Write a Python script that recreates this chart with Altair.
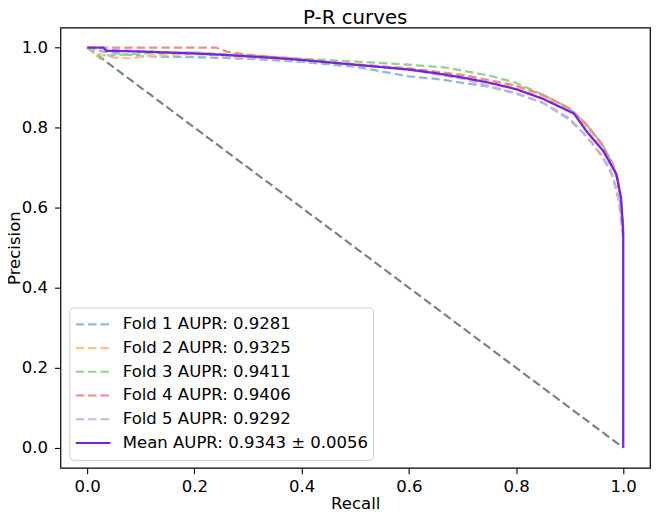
import altair as alt
import pandas as pd

# ---- data ----
labels = [
    "Fold 1 AUPR: 0.9281",
    "Fold 2 AUPR: 0.9325",
    "Fold 3 AUPR: 0.9411",
    "Fold 4 AUPR: 0.9406",
    "Fold 5 AUPR: 0.9292",
    "Mean AUPR: 0.9343 ± 0.0056",
]
# tab10 colours at alpha 0.5 over white for the folds, solid purple for the mean
colors = ["#8fbbd9", "#ffbf86", "#95cf95", "#ea8d8d", "#c9b3de", "#7722dd"]

fold1_r = [0.0, 0.03, 0.06, 0.10, 0.20, 0.30, 0.40, 0.50, 0.55, 0.60, 0.65, 0.70, 0.75, 0.80, 0.85, 0.90, 0.93, 0.96, 0.98, 0.995, 1.0]
fold1_p = [1.0, 0.990, 0.985, 0.978, 0.976, 0.972, 0.964, 0.952, 0.940, 0.928, 0.922, 0.912, 0.902, 0.885, 0.862, 0.820, 0.780, 0.730, 0.680, 0.600, 0.530]

fold2_r = [0.0, 0.02, 0.05, 0.08, 0.12, 0.20, 0.30, 0.40, 0.50, 0.60, 0.70, 0.80, 0.85, 0.90, 0.93, 0.96, 0.98, 0.99, 1.0]
fold2_p = [1.0, 0.985, 0.975, 0.973, 0.980, 0.984, 0.976, 0.968, 0.958, 0.947, 0.928, 0.900, 0.878, 0.845, 0.805, 0.755, 0.705, 0.670, 0.550]

fold3_r = [0.0, 0.01, 0.025, 0.04, 0.10, 0.20, 0.30, 0.40, 0.50, 0.60, 0.67, 0.75, 0.80, 0.85, 0.90, 0.93, 0.96, 0.98, 0.99, 1.0]
fold3_p = [1.0, 0.990, 0.972, 0.980, 0.985, 0.988, 0.980, 0.972, 0.965, 0.957, 0.950, 0.930, 0.912, 0.882, 0.848, 0.810, 0.760, 0.710, 0.670, 0.560]

fold4_r = [0.0, 0.24, 0.26, 0.30, 0.40, 0.50, 0.60, 0.70, 0.80, 0.85, 0.90, 0.93, 0.96, 0.98, 0.99, 1.0]
fold4_p = [1.0, 1.000, 0.990, 0.982, 0.970, 0.958, 0.948, 0.932, 0.905, 0.882, 0.848, 0.810, 0.760, 0.710, 0.670, 0.550]

fold5_r = [0.0, 0.03, 0.10, 0.20, 0.30, 0.40, 0.50, 0.60, 0.70, 0.80, 0.85, 0.90, 0.94, 0.975, 0.99, 1.0]
fold5_p = [1.0, 0.998, 0.990, 0.987, 0.978, 0.968, 0.957, 0.945, 0.922, 0.886, 0.862, 0.823, 0.765, 0.700, 0.635, 0.520]

mean_r = [0.0, 0.03, 0.035, 0.10, 0.20, 0.25, 0.30, 0.35, 0.40, 0.45, 0.50, 0.55, 0.60, 0.65, 0.70, 0.75, 0.80, 0.85, 0.908, 0.932, 0.963, 0.987, 0.996, 1.0, 1.0]
mean_p = [1.0, 1.000, 0.992, 0.990, 0.985, 0.982, 0.978, 0.974, 0.969, 0.963, 0.957, 0.951, 0.945, 0.936, 0.925, 0.912, 0.896, 0.872, 0.835, 0.790, 0.741, 0.684, 0.625, 0.536, 0.0]

diag_r = [0.0, 1.0]
diag_p = [1.0, 0.0]

series = [
    (fold1_r, fold1_p), (fold2_r, fold2_p), (fold3_r, fold3_p),
    (fold4_r, fold4_p), (fold5_r, fold5_p), (mean_r, mean_p),
]

rows = []
for lab, (rr, pp) in zip(labels, series):
    for i, (r, p) in enumerate(zip(rr, pp)):
        rows.append({"recall": r, "precision": p, "series": lab, "idx": i})
df = pd.DataFrame(rows)
diag = pd.DataFrame({"recall": diag_r, "precision": diag_p, "idx": [0, 1]})

FONT = "DejaVu Sans"
FS = 16.7
DASH = [8.5, 4]
xscale = alt.Scale(domain=[-0.05, 1.05], nice=False, zero=False)
yscale = alt.Scale(domain=[-0.05, 1.05], nice=False, zero=False)
ticks = [0.0, 0.2, 0.4, 0.6, 0.8, 1.0]

xaxis = alt.Axis(values=ticks, format=".1f", title="Recall", grid=False, domain=False,
                 tickColor="black", tickSize=6, tickWidth=1.1, labelPadding=5, labelFontSize=FS,
                 titleFontSize=FS, titleFontWeight="normal", labelColor="black", titleColor="black",
                 titlePadding=1)
yaxis = alt.Axis(values=ticks, format=".1f", title="Precision", grid=False, domain=False,
                 tickColor="black", tickSize=6, tickWidth=1.1, labelPadding=7, labelFontSize=FS,
                 titleFontSize=FS, titleFontWeight="normal", labelColor="black", titleColor="black",
                 titlePadding=-2)

diag_layer = alt.Chart(diag).mark_line(color="gray", strokeWidth=2.2, strokeDash=DASH).encode(
    x=alt.X("recall:Q", scale=xscale, axis=xaxis),
    y=alt.Y("precision:Q", scale=yscale, axis=yaxis),
    order="idx:Q",
)

legend = alt.Legend(
    title=None, orient="none", legendX=9, legendY=283, direction="vertical",
    symbolType="stroke", symbolSize=1225, symbolStrokeWidth=2.2,
    labelFontSize=FS, labelFont=FONT, labelColor="black", labelOffset=11, labelLimit=400,
    fillColor="rgba(255,255,255,0.8)", strokeColor="#cccccc", cornerRadius=4,
    padding=5, rowPadding=0, clipHeight=24,
)

lines = alt.Chart(df).mark_line(strokeWidth=2.3).encode(
    x=alt.X("recall:Q", scale=xscale, axis=xaxis),
    y=alt.Y("precision:Q", scale=yscale, axis=yaxis),
    color=alt.Color("series:N", scale=alt.Scale(domain=labels, range=colors), legend=legend),
    strokeDash=alt.StrokeDash("series:N", scale=alt.Scale(domain=labels,
                              range=[DASH] * 5 + [[1, 0]]), legend=legend),
    order="idx:Q",
)

chart = alt.layer(diag_layer, lines).properties(
    width=596, height=445,
    title=alt.TitleParams("P-R curves", fontSize=20, font=FONT, fontWeight="normal",
                          color="black", anchor="middle", offset=2, dy=2),
    autosize="none",
    padding={"left": 53, "top": 17, "right": 2, "bottom": 42},
).configure(font=FONT, view=alt.ViewConfig(stroke="black", strokeWidth=1.2))

chart.save("out.html", embed_options={"renderer": "svg", "actions": False})
